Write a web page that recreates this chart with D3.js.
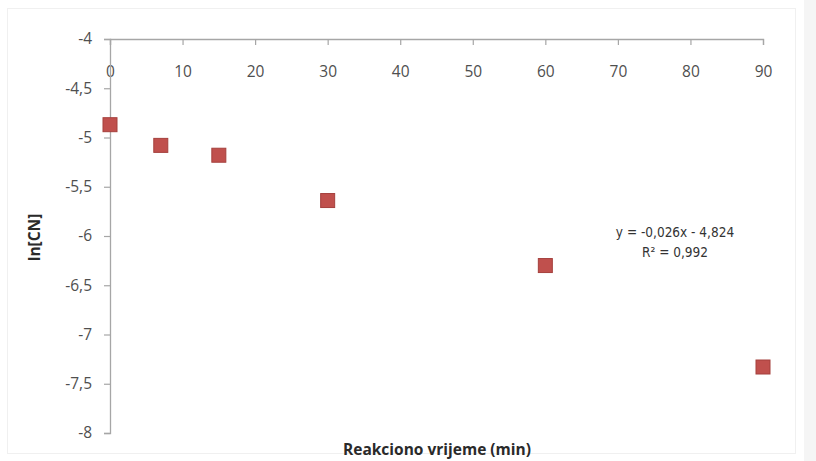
<!DOCTYPE html>
<html>
<head>
<meta charset="utf-8">
<script src="https://cdn.jsdelivr.net/npm/d3@7"></script>
<style>
  html, body { margin: 0; padding: 0; background: #ffffff; }
  svg { display: block; }
</style>
</head>
<body>
<svg id="chart" width="816" height="461"></svg>
<script>
// ---- data ----
const timeMin = [0, 7, 15, 30, 60, 90];
const lnCN = [-4.87, -5.08, -5.18, -5.64, -6.30, -7.33];
const xTicks = [0, 10, 20, 30, 40, 50, 60, 70, 80, 90];
const yTicks = [-4, -4.5, -5, -5.5, -6, -6.5, -7, -7.5, -8];
const xTitle = "Reakciono vrijeme (min)";
const yTitle = "ln[CN]";
const eqLines = ["y = -0,026x - 4,824", "R² = 0,992"];

// ---- layout ----
const W = 816, H = 461;
const plotL = 110, plotR = 763, plotT = 39, plotB = 433;

const svg = d3.select("#chart");

// background & faint frame like an Excel chart area
svg.append("rect").attr("x", 0).attr("y", 0).attr("width", W).attr("height", H).attr("fill", "#ffffff");
svg.append("rect").attr("x", 804).attr("y", 0).attr("width", W - 804).attr("height", H).attr("fill", "#f5f5f5");
svg.append("rect").attr("x", 7.5).attr("y", 8.5).attr("width", 788).attr("height", 445)
  .attr("fill", "none").attr("stroke", "#f0f0f0").attr("stroke-width", 1);

const x = d3.scaleLinear().domain([0, 90]).range([plotL, plotR]);
const y = d3.scaleLinear().domain([-8, -4]).range([plotB, plotT]);

const fmt = d => String(d).replace(".", ",");
const axisColor = "#a6a6a6";
const labelColor = "#4f4f4f";
const tickFont = "'Open Sans', 'Liberation Sans', Arial, sans-serif";

// x axis drawn along the top (y = -4), labels below the line
const gx = svg.append("g").attr("transform", `translate(0,${plotT})`)
  .call(d3.axisBottom(x).tickValues(xTicks).tickFormat(fmt).tickSize(6).tickPadding(21));
// y axis
const gy = svg.append("g").attr("transform", `translate(${plotL},0)`)
  .call(d3.axisLeft(y).tickValues(yTicks).tickFormat(fmt).tickSize(6).tickPadding(12));

[gx, gy].forEach(g => {
  g.selectAll("path.domain").attr("stroke", axisColor).attr("stroke-width", 1.3);
  g.selectAll(".tick line").attr("stroke", axisColor).attr("stroke-width", 1.2);
  g.selectAll(".tick text").attr("fill", labelColor)
    .style("font-family", tickFont).style("font-size", "15.5px");
});

// data points (square markers)
const ms = 14;
svg.append("g").selectAll("rect")
  .data(timeMin.map((t, i) => ({ t, v: lnCN[i] })))
  .join("rect")
  .attr("x", d => x(d.t) - ms / 2)
  .attr("y", d => y(d.v) - ms / 2)
  .attr("width", ms).attr("height", ms)
  .attr("fill", "#c0504d")
  .attr("stroke", "#a5403d")
  .attr("stroke-width", 1);

// trendline equation label
svg.append("g").selectAll("text")
  .data(eqLines)
  .join("text")
  .attr("x", 675)
  .attr("y", (d, i) => 237 + i * 20)
  .attr("text-anchor", "middle")
  .attr("fill", "#333333")
  .style("font-family", "'Liberation Sans Narrow', 'DejaVu Sans Condensed', Arial, sans-serif")
  .style("font-size", "13.5px")
  .text(d => d);

// axis titles
svg.append("text")
  .attr("x", 437).attr("y", 455)
  .attr("text-anchor", "middle")
  .attr("fill", "#2a2a2a")
  .style("font-family", tickFont)
  .style("font-size", "15.5px").style("font-weight", "bold")
  .text(xTitle);

svg.append("text")
  .attr("transform", `translate(40,237.5) rotate(-90)`)
  .attr("text-anchor", "middle")
  .attr("fill", "#2a2a2a")
  .style("font-family", tickFont)
  .style("font-size", "15.5px").style("font-weight", "bold")
  .text(yTitle);
</script>
</body>
</html>
